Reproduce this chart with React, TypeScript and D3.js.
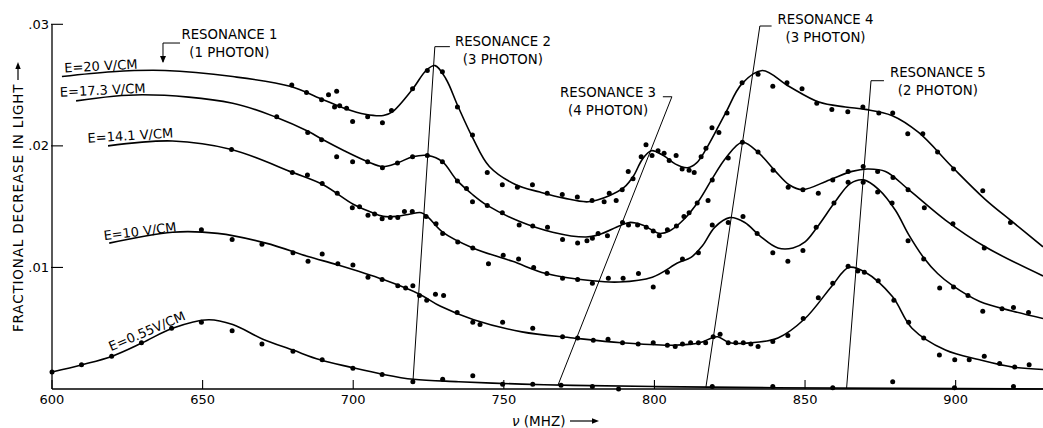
import React from "react";
import * as d3 from "d3";

const width = 1043;
const height = 428;

type Pt = [number, number];

// frequency (MHz), fractional decrease in light
const fit20: Pt[] = [
  [603.3, 0.0257], [620, 0.0261], [637.5, 0.0262], [660, 0.0257], [679, 0.0249], [690, 0.0238],
  [697, 0.0231], [704, 0.0226], [710, 0.0225], [713, 0.0228], [719.8, 0.0247], [724.2, 0.0262],
  [727.2, 0.0266], [730.8, 0.0255], [734.7, 0.0233], [739.6, 0.0207], [745.2, 0.0183], [754, 0.0168],
  [762, 0.0162], [770, 0.0157], [778, 0.0154], [785, 0.0159], [790, 0.0166], [793, 0.0175],
  [796, 0.0189], [799, 0.0196], [803, 0.0192], [807, 0.0185], [811, 0.0182], [814, 0.0186],
  [817.3, 0.0198], [823.6, 0.0227], [829, 0.0251], [835.8, 0.0262], [844.6, 0.0249], [854.6, 0.0236],
  [863.4, 0.0232], [870, 0.0230], [878.8, 0.0225], [887.7, 0.0211], [898.7, 0.0183], [909.8, 0.0156],
  [918.6, 0.0138], [929, 0.0117],
];
const fit17: Pt[] = [
  [608, 0.0237], [630, 0.0242], [660, 0.0235], [675, 0.0223], [685, 0.0212], [690, 0.0205],
  [697, 0.0196], [704.8, 0.0187], [709.7, 0.0183], [714.7, 0.0186], [719.7, 0.0191], [725, 0.0192],
  [729.6, 0.0187], [734.3, 0.0172], [739.6, 0.0160], [744.5, 0.0151], [755.1, 0.0138], [766.2, 0.0129],
  [777.3, 0.0125], [781.7, 0.0127], [788.3, 0.0134], [791.6, 0.0137], [796, 0.0135], [801.6, 0.0128],
  [805, 0.0130], [810, 0.0140], [814.8, 0.0155], [819.2, 0.0173], [823.7, 0.0190], [829.2, 0.0203],
  [834.7, 0.0194], [840.2, 0.0179], [844.7, 0.0168], [849.1, 0.0164], [858.1, 0.0172], [865.6, 0.0179],
  [870.6, 0.0181], [876.7, 0.0179], [884.4, 0.0164], [896.6, 0.0139], [909.8, 0.0117], [929, 0.0093],
];
const fit14: Pt[] = [
  [618.6, 0.0200], [640, 0.0204], [659.6, 0.0197], [680, 0.0178], [690, 0.0168], [700, 0.0152],
  [705.4, 0.0146], [710, 0.0142], [714.3, 0.0142], [719, 0.0144], [722.6, 0.0145], [725, 0.0141],
  [729.7, 0.0129], [739.7, 0.0116], [752.9, 0.0105], [764, 0.0095], [779.4, 0.0089], [788.3, 0.0088],
  [799.3, 0.0092], [808, 0.0104], [812, 0.0108], [816, 0.0118], [820, 0.0133], [825, 0.0141],
  [830, 0.0137], [835, 0.0126], [841, 0.0116], [846, 0.0116], [850, 0.0121], [854, 0.0133],
  [860, 0.0154], [865, 0.0169], [869.5, 0.0172], [874.5, 0.0164], [880, 0.0147], [884.4, 0.0127],
  [889.4, 0.0108], [894, 0.0095], [899, 0.0085], [908, 0.0072], [919, 0.0064], [929, 0.0058],
];
const fit10: Pt[] = [
  [619, 0.0120], [640, 0.0129], [655, 0.0128], [671, 0.0120], [685, 0.0109], [695, 0.0102],
  [710, 0.0090], [722, 0.0078], [729, 0.0068], [740, 0.0057], [756, 0.0047], [773, 0.0042],
  [789, 0.0038], [806, 0.0036], [815, 0.0038], [819, 0.0042], [821, 0.0043], [825, 0.0038],
  [832, 0.0038], [841, 0.0042], [850, 0.0058], [859, 0.0085], [864.5, 0.0100], [870, 0.0096],
  [879, 0.0076], [885.5, 0.0050], [896.6, 0.0032], [908, 0.0024], [919, 0.0018], [929, 0.0016],
];
const fit055: Pt[] = [
  [600, 0.0014], [610, 0.0020], [620, 0.0027], [630, 0.0038], [640, 0.0050], [652, 0.0057],
  [660, 0.0053], [670, 0.0041], [680, 0.0032], [689, 0.0024], [699, 0.0018], [710, 0.0012],
  [720, 0.0008], [735, 0.0006], [756, 0.0004], [773, 0.0003], [800, 0.0002], [840, 0.0001],
  [929, 0.0000],
];

const pts20: Pt[] = [
  [679.6, 0.0250], [684.5, 0.0244], [689.5, 0.0238], [691.8, 0.0242], [694.5, 0.0245], [693.8, 0.0232],
  [695.5, 0.0233], [697.8, 0.0231], [699.8, 0.0220], [704.8, 0.0224], [709.7, 0.0219], [712.7, 0.0229],
  [719.7, 0.0247], [724.6, 0.0262], [729.6, 0.0261], [734.6, 0.0232], [739.6, 0.0209], [744.5, 0.0178],
  [749.5, 0.0168], [754.5, 0.0166], [759.5, 0.0168], [764.4, 0.0161], [769.4, 0.0160], [774.4, 0.0158],
  [779.3, 0.0155], [783.3, 0.0154], [785.0, 0.0161], [787.3, 0.0155], [789.3, 0.0164], [791.3, 0.0179],
  [792.9, 0.0173], [795.6, 0.0191], [797.2, 0.0201], [799.2, 0.0192], [801.2, 0.0196], [803.2, 0.0194],
  [804.9, 0.0188], [807.2, 0.0192], [809.2, 0.0181], [811.5, 0.0180], [813.2, 0.0178], [815.5, 0.0191],
  [817.1, 0.0198], [819.1, 0.0215], [821.4, 0.0211], [824.1, 0.0227], [829.1, 0.0252], [834.4, 0.0259],
  [839.3, 0.0249], [844.0, 0.0252], [849.0, 0.0247], [853.9, 0.0235], [858.9, 0.0230], [864.2, 0.0228],
  [869.2, 0.0232], [874.5, 0.0227], [879.1, 0.0227], [884.1, 0.0210], [889.1, 0.0210], [894.0, 0.0195],
  [899.3, 0.0181], [909.0, 0.0163], [918.2, 0.0137],
];
const pts17: Pt[] = [
  [674.6, 0.0224], [684.9, 0.0211], [689.5, 0.0205], [694.5, 0.0191], [699.8, 0.0187], [704.8, 0.0187],
  [709.7, 0.0182], [714.7, 0.0186], [719.7, 0.0191], [724.6, 0.0192], [729.6, 0.0187], [734.6, 0.0171],
  [737.6, 0.0165], [739.6, 0.0154], [744.5, 0.0151], [749.5, 0.0145], [755.1, 0.0135], [759.6, 0.0134],
  [764.5, 0.0133], [769.5, 0.0123], [774.5, 0.0120], [777.6, 0.0122], [779.4, 0.0124], [781.3, 0.0128],
  [784.4, 0.0126], [789.4, 0.0137], [791.4, 0.0135], [794.4, 0.0135], [797.3, 0.0133], [799.6, 0.0130],
  [801.6, 0.0126], [804.3, 0.0131], [807.3, 0.0134], [809.8, 0.0142], [811.5, 0.0145], [814.2, 0.0153],
  [817.8, 0.0155], [819.2, 0.0172], [824.5, 0.0190], [829.2, 0.0203], [834.4, 0.0195], [839.4, 0.0180],
  [844.4, 0.0166], [849.3, 0.0164], [854.4, 0.0161], [859.2, 0.0172], [864.3, 0.0179], [869.3, 0.0183],
  [874.1, 0.0179], [879.2, 0.0174], [884.2, 0.0164], [889.6, 0.0149], [899.1, 0.0136], [909.5, 0.0116],
];
const pts14: Pt[] = [
  [659.6, 0.0197], [679.8, 0.0178], [684.8, 0.0176], [689.7, 0.0169], [694.7, 0.0161], [699.7, 0.0149],
  [702.1, 0.0150], [704.9, 0.0143], [707.1, 0.0144], [709.6, 0.0140], [712.3, 0.0141], [714.8, 0.0141],
  [717.0, 0.0146], [719.6, 0.0146], [724.2, 0.0142], [727.5, 0.0136], [729.7, 0.0128], [734.7, 0.0121],
  [739.7, 0.0116], [744.9, 0.0103], [749.8, 0.0110], [754.9, 0.0107], [759.9, 0.0100], [764.3, 0.0095],
  [769.5, 0.0091], [774.5, 0.0090], [779.4, 0.0087], [784.7, 0.0091], [789.6, 0.0091], [794.7, 0.0095],
  [799.6, 0.0084], [804.3, 0.0096], [809.3, 0.0107], [814.6, 0.0112], [819.2, 0.0135], [824.5, 0.0137],
  [829.4, 0.0142], [834.1, 0.0128], [839.3, 0.0112], [844.3, 0.0105], [849.3, 0.0114], [853.7, 0.0133],
  [859.6, 0.0153], [864.3, 0.0170], [869.3, 0.0170], [874.1, 0.0162], [878.9, 0.0153], [884.2, 0.0122],
  [889.4, 0.0107], [894.7, 0.0083], [899.3, 0.0084], [904.1, 0.0077], [909.0, 0.0064], [915.4, 0.0066],
  [919.2, 0.0067], [924.2, 0.0063],
];
const pts10: Pt[] = [
  [649.6, 0.0131], [659.8, 0.0123], [669.7, 0.0119], [680.0, 0.0112], [685.0, 0.0105], [689.7, 0.0111],
  [694.9, 0.0103], [699.9, 0.0102], [704.9, 0.0092], [709.6, 0.0090], [714.8, 0.0085], [717.4, 0.0083],
  [719.8, 0.0085], [722.0, 0.0077], [724.4, 0.0073], [727.3, 0.0078], [730.0, 0.0077], [734.5, 0.0063],
  [739.7, 0.0055], [742.1, 0.0053], [749.6, 0.0055], [759.6, 0.0050], [769.5, 0.0043], [774.5, 0.0042],
  [779.7, 0.0040], [784.6, 0.0041], [789.4, 0.0038], [794.6, 0.0037], [799.6, 0.0038], [804.3, 0.0036],
  [806.9, 0.0035], [809.3, 0.0037], [812.0, 0.0038], [814.6, 0.0038], [817.0, 0.0038], [819.5, 0.0043],
  [821.8, 0.0045], [824.5, 0.0038], [827.0, 0.0038], [829.5, 0.0038], [832.0, 0.0037], [834.4, 0.0035],
  [839.3, 0.0039], [844.3, 0.0044], [849.4, 0.0058], [854.4, 0.0075], [859.2, 0.0087], [864.3, 0.0101],
  [867.5, 0.0097], [869.7, 0.0096], [874.3, 0.0089], [879.5, 0.0073], [884.4, 0.0055], [889.4, 0.0042],
  [894.6, 0.0028], [899.7, 0.0024], [904.5, 0.0024], [909.5, 0.0027], [914.6, 0.0021], [919.6, 0.0018],
  [924.4, 0.0020],
];
const pts055: Pt[] = [
  [600.0, 0.0014], [609.8, 0.0020], [619.8, 0.0027], [629.7, 0.0038], [639.7, 0.0050], [649.6, 0.0055],
  [659.8, 0.0048], [669.7, 0.0037], [680.0, 0.0031], [689.7, 0.0024], [699.9, 0.0017], [709.6, 0.0012],
  [719.8, 0.0006], [729.7, 0.0008], [739.7, 0.0011], [749.6, 0.0004], [759.6, 0.0004], [769.0, 0.0003],
  [779.4, 0.0002], [788.1, 0.0000], [819.2, 0.0002], [839.3, 0.0002], [859.2, 0.0001], [879.1, 0.0006],
  [899.6, 0.0001], [919.2, 0.0002],
];

const fits = [fit20, fit17, fit14, fit10, fit055];
const dots = [pts20, pts17, pts14, pts10, pts055];

// field labels: text, anchor (MHz, value), rotation
const fieldLabels = ["E=20 V/CM", "E=17.3 V/CM", "E=14.1 V/CM", "E=10 V/CM", "E=0.55V/CM"];
const fieldAnchors: Pt[] = [[616.3, 0.0262], [616.9, 0.02421], [626.1, 0.02048], [629.4, 0.0126], [632.1, 0.00441]];
const fieldAngles = [-3, -2.7, -3.5, -7, -23];

const resonanceNames = ["RESONANCE 1", "RESONANCE 2", "RESONANCE 3", "RESONANCE 4", "RESONANCE 5"];
const resonancePhotons = ["(1 PHOTON)", "(3 PHOTON)", "(4 PHOTON)", "(3 PHOTON)", "(2 PHOTON)"];
const resonanceAnchors: Pt[] = [[658.9, 0.02881], [749.7, 0.02824], [784.6, 0.02402], [856.8, 0.03005], [894.1, 0.02563]];
const resonanceLeaders: Pt[][] = [
  [[642.5, 0.02846], [636.85, 0.02846], [636.85, 0.0269]],
  [[732.1, 0.02816], [727.1, 0.02816], [719.8, 0.00049]],
  [[802.8, 0.02404], [805.8, 0.02404], [768.0, 0.00033]],
  [[838.9, 0.02986], [835.0, 0.02986], [817.1, 0.00016]],
  [[876.2, 0.02536], [871.9, 0.02536], [863.8, 0.00008]],
];

const xTicks = [600, 650, 700, 750, 800, 850, 900];
const yTicks = [0.01, 0.02, 0.03];
const yTickLabels = [".01", ".02", ".03"];

const x = d3.scaleLinear().domain([600, 929]).range([52, 1043]);
const y = d3.scaleLinear().domain([0, 0.03]).range([389, 24.3]);

const smooth = d3
  .line<Pt>()
  .x((d) => x(d[0]))
  .y((d) => y(d[1]))
  .curve(d3.curveCatmullRom.alpha(0.5));
const straight = d3
  .line<Pt>()
  .x((d) => x(d[0]))
  .y((d) => y(d[1]));

export default function App() {
  const x0 = x(600);
  const y0 = y(0);
  const r1 = resonanceLeaders[0][2];
  return (
    <svg
      width={width}
      height={height}
      style={{ position: "absolute", left: 0, top: 0, background: "#fff" }}
      fontFamily="'DejaVu Sans', sans-serif"
      fontSize={13}
      fill="#000"
    >
      <rect width={width} height={height} fill="#fff" />

      {/* axes */}
      <line x1={x0} x2={x(929)} y1={y0} y2={y0} stroke="#000" strokeWidth={1.3} />
      <line x1={x0} x2={x0} y1={y0} y2={y(0.03)} stroke="#000" strokeWidth={1.3} />
      {xTicks.map((t) => (
        <g key={t}>
          <line x1={x(t)} x2={x(t)} y1={y0} y2={y0 - 9} stroke="#000" strokeWidth={1.1} />
          <text x={x(t)} y={y0 + 15} textAnchor="middle">{t}</text>
        </g>
      ))}
      {yTicks.map((t, i) => (
        <g key={t}>
          <line x1={x0 - 1} x2={x0 + 11} y1={y(t)} y2={y(t)} stroke="#000" strokeWidth={1.1} />
          <text x={x0 - 3} y={y(t) + 4.5} textAnchor="end">{yTickLabels[i]}</text>
        </g>
      ))}

      {/* axis titles */}
      <text transform="translate(23,332) rotate(-90)" fontSize={13.5} letterSpacing={0.85}>
        FRACTIONAL DECREASE IN LIGHT
      </text>
      <line x1={18} x2={18} y1={80} y2={67} stroke="#000" strokeWidth={1.2} />
      <path d="M18,62 L15.3,69 L20.7,69 Z" fill="#000" />
      <text x={512} y={426} fontSize={13.5}>
        <tspan fontStyle="italic">ν</tspan> (MHZ)
      </text>
      <line x1={570} x2={593} y1={421} y2={421} stroke="#000" strokeWidth={1.2} />
      <path d="M599,421 L592,418.3 L592,423.7 Z" fill="#000" />

      {/* resonance leaders */}
      {resonanceLeaders.map((p, i) => (
        <path key={i} d={straight(p) || ""} fill="none" stroke="#000" strokeWidth={1} />
      ))}
      <path
        d={`M${x(r1[0])},${y(r1[1]) + 1} l-3,-7 l6,0 Z`}
        fill="#000"
      />
      {resonanceNames.map((name, i) => (
        <g key={name + i} fontSize={13.3}>
          <text x={x(resonanceAnchors[i][0])} y={y(resonanceAnchors[i][1])} textAnchor="middle">
            {name}
          </text>
          <text x={x(resonanceAnchors[i][0])} y={y(resonanceAnchors[i][1]) + 18} textAnchor="middle">
            {resonancePhotons[i]}
          </text>
        </g>
      ))}

      {/* fitted curves */}
      {fits.map((f, i) => (
        <path key={i} d={smooth(f) || ""} fill="none" stroke="#000" strokeWidth={1.6} />
      ))}

      {/* measured points */}
      {dots.map((s, i) => (
        <g key={i}>
          {s.map((d, j) => (
            <circle key={j} cx={x(d[0])} cy={y(d[1])} r={2.5} fill="#000" />
          ))}
        </g>
      ))}

      {/* field labels */}
      {fieldLabels.map((t, i) => (
        <text
          key={t}
          transform={`translate(${x(fieldAnchors[i][0])},${y(fieldAnchors[i][1])}) rotate(${fieldAngles[i]})`}
          textAnchor="middle"
        >
          {t}
        </text>
      ))}
    </svg>
  );
}
